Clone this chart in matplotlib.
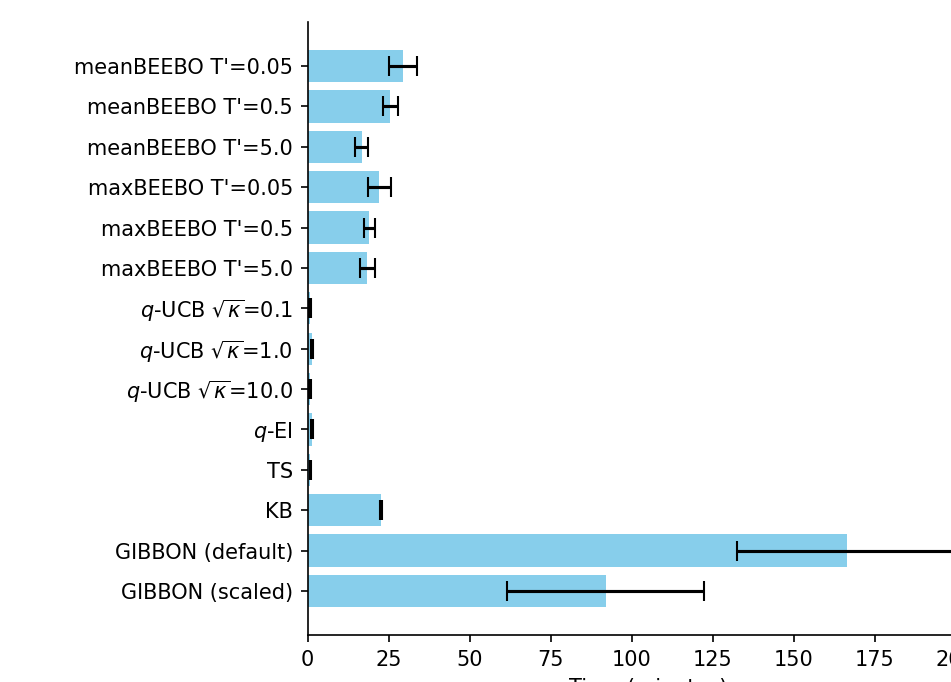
import matplotlib
matplotlib.use("Agg")
import matplotlib.pyplot as plt

# methods, top to bottom
methods = ["meanBEEBO T'=0.05", "meanBEEBO T'=0.5", "meanBEEBO T'=5.0",
           "maxBEEBO T'=0.05", "maxBEEBO T'=0.5", "maxBEEBO T'=5.0",
           r"$q$-UCB $\sqrt{\kappa}$=0.1", r"$q$-UCB $\sqrt{\kappa}$=1.0",
           r"$q$-UCB $\sqrt{\kappa}$=10.0", r"$q$-EI", "TS", "KB",
           "GIBBON (default)", "GIBBON (scaled)"]
# mean runtime in minutes and its spread
times = [29.6, 25.6, 16.7, 22.2, 19.1, 18.5, 0.8, 1.3, 0.8, 1.5, 0.9, 22.8, 166.5, 92.0]
errs = [4.3, 2.3, 2.0, 3.5, 1.7, 2.3, 0.2, 0.3, 0.2, 0.3, 0.2, 0.3, 34.0, 30.3]

W, H, DPI = 951, 682, 150
fig = plt.figure(figsize=(W / DPI, H / DPI), dpi=DPI)
ax = fig.add_axes([0, 0, 1, 1])

ypos = list(range(len(methods)))
ax.barh(ypos, times, xerr=errs, color="skyblue", capsize=5)
ax.set_yticks(ypos)
ax.set_yticklabels(methods)
ax.invert_yaxis()
ax.set_xlabel("Time (minutes)")
ax.spines["top"].set_visible(False)
ax.spines["right"].set_visible(False)

# the reference is a crop of a wider picture: 25 minutes = 81 px
x0 = 307.5
px_per_unit = 81 / 25
xmax = ax.get_xlim()[1]
left = x0 / W
width = xmax * px_per_unit / W
bottom = 47 / H
top = (H - 22) / H
ax.set_position([left, bottom, width, top - bottom])

fig.savefig("out.png", dpi=DPI)
